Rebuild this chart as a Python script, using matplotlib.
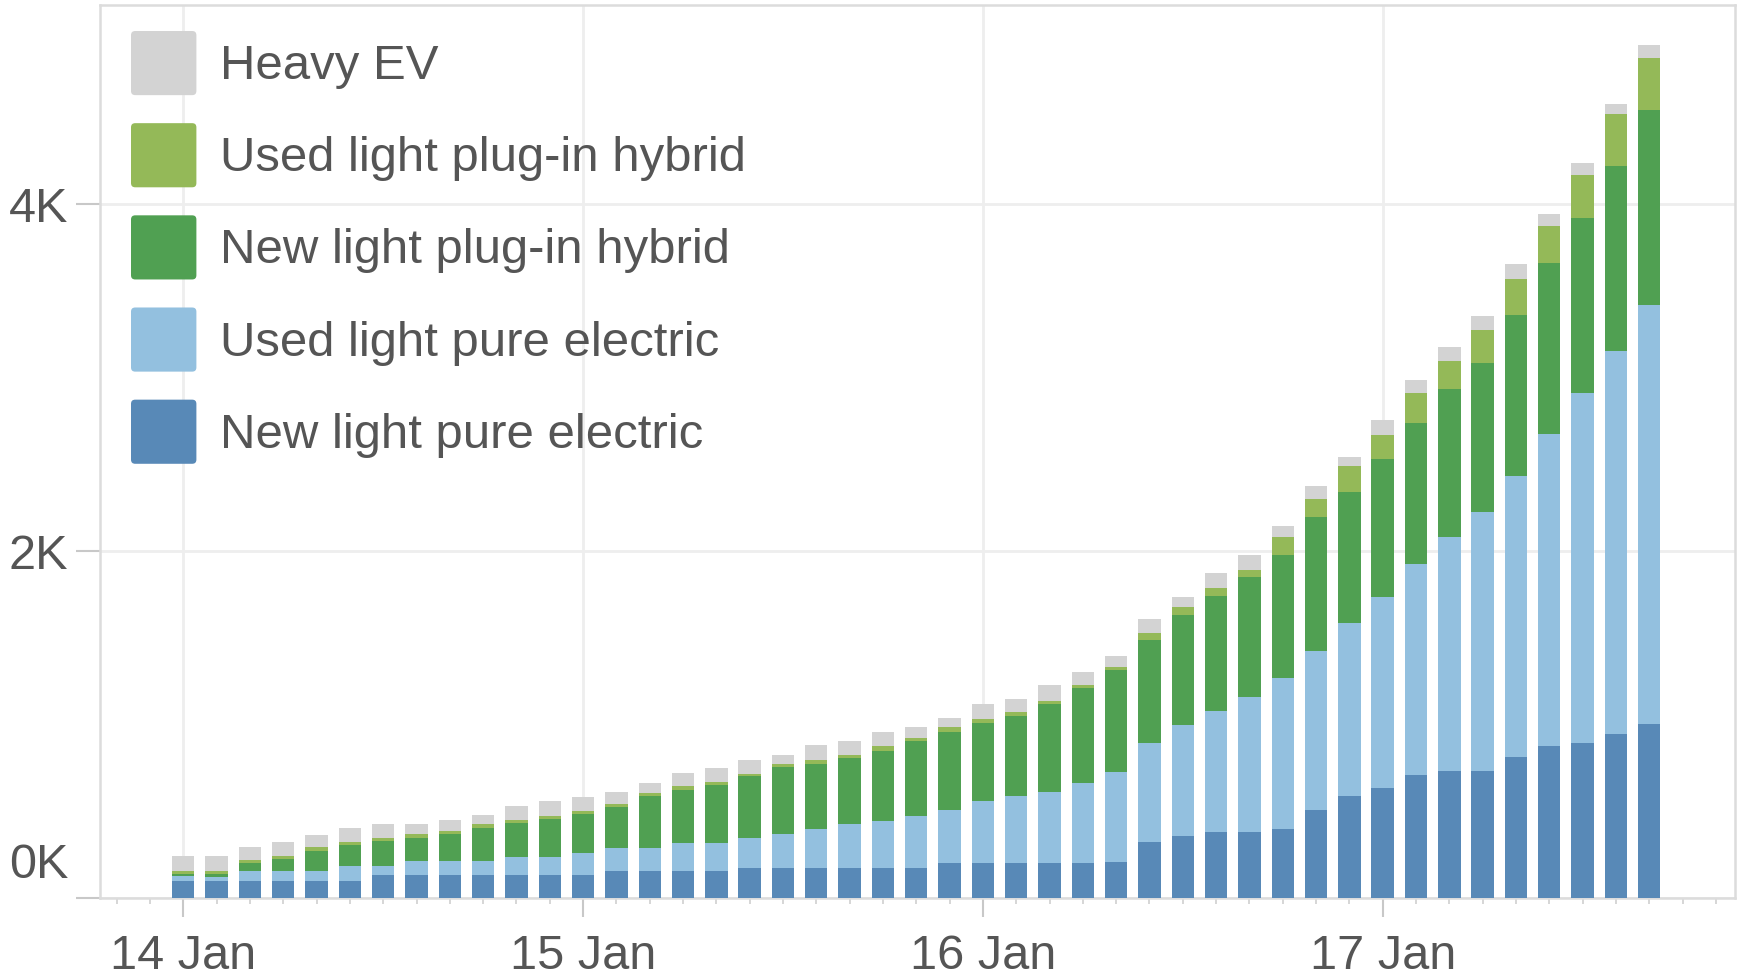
import matplotlib
matplotlib.use('Agg')
import matplotlib.pyplot as plt
import matplotlib.dates as mdates
import matplotlib.transforms as mtransforms
from matplotlib.patches import FancyBboxPatch
from matplotlib.legend_handler import HandlerPatch
import numpy as np
import pandas as pd

plt.rcParams['font.family'] = ['Liberation Sans', 'DejaVu Sans']

# two-hourly counts from 14 Jan 00:00
times = pd.date_range('2024-01-14 00:00', periods=45, freq='2h')

new_bev = [96, 96, 96, 96, 96, 96, 131, 131, 131, 131,
           131, 131, 131, 154, 154, 154, 154, 173, 173, 173,
           173, 173, 173, 202, 202, 202, 202, 202, 206, 321,
           355, 378, 378, 398, 509, 590, 634, 712, 735, 735,
           812, 879, 896, 946, 1003]
used_bev = [29, 26, 58, 58, 58, 87, 52, 80, 80, 80,
            107, 107, 130, 134, 134, 165, 165, 173, 196, 227,
            255, 273, 298, 303, 355, 384, 409, 461, 519, 572,
            644, 698, 784, 870, 913, 995, 1101, 1214, 1348, 1492,
            1623, 1796, 2017, 2208, 2418]
new_phev = [15, 15, 48, 71, 119, 120, 144, 137, 159, 194,
            196, 219, 221, 236, 298, 305, 330, 355, 386, 374,
            379, 402, 432, 450, 455, 461, 505, 547, 588, 596,
            634, 666, 688, 711, 774, 759, 797, 816, 853, 860,
            926, 987, 1010, 1070, 1125]
used_phev = [14, 17, 15, 15, 19, 20, 17, 19, 18, 20,
             17, 15, 19, 18, 21, 20, 19, 16, 19, 19,
             19, 28, 19, 30, 20, 23, 19, 19, 21, 38,
             48, 45, 42, 105, 103, 148, 138, 171, 161, 190,
             211, 211, 244, 295, 297]
heavy_ev = [86, 86, 75, 81, 73, 80, 84, 61, 63, 53,
            82, 85, 81, 70, 59, 76, 81, 80, 52, 87,
            77, 84, 63, 52, 86, 79, 91, 77, 59, 81,
            57, 86, 87, 62, 77, 49, 84, 74, 80, 77,
            83, 73, 74, 60, 78]

series = ['New light pure electric', 'Used light pure electric',
          'New light plug-in hybrid', 'Used light plug-in hybrid', 'Heavy EV']
colors = ['#5889b7', '#93c0df', '#50a052', '#94b958', '#d3d3d3']

day_ticks = pd.date_range('2024-01-14', periods=4, freq='D')
day_labels = ['14 Jan', '15 Jan', '16 Jan', '17 Jan']
y_ticks = [0, 2000, 4000]
y_labels = ['0K', '2K', '4K']

fig = plt.figure(figsize=(17.42, 9.8), dpi=100)
ax = fig.add_axes([100 / 1742, 1 - 898 / 980, 1635 / 1742, 893 / 980])

x = mdates.date2num(times)
bottom = np.zeros(len(x))
handles = []
for name, vals, c in zip(series, [new_bev, used_bev, new_phev, used_phev, heavy_ev], colors):
    bars = ax.bar(x, vals, width=0.056, bottom=bottom, color=c, label=name,
                  zorder=3, linewidth=0)
    bottom += np.array(vals)
    handles.append(bars.patches[0])

ax.set_xlim(x[0] - 5 / 24, x[0] + 93.15 / 24)
ax.set_ylim(0, 5150)

ax.set_xticks(mdates.date2num(day_ticks))
ax.set_xticklabels(day_labels)
ax.xaxis.set_minor_locator(mdates.HourLocator(byhour=range(0, 24, 2)))
ax.set_yticks(y_ticks)
ax.set_yticklabels(y_labels)

ax.tick_params(axis='x', which='major', length=14, width=1.5, color='#c8c8c8',
               pad=12, labelsize=35, labelcolor='#555555')
ax.tick_params(axis='x', which='minor', length=4, width=1.2, color='#d0d0d0')
ax.tick_params(axis='y', length=17, width=1.5, color='#c8c8c8', pad=6,
               labelsize=35, labelcolor='#555555')
zero_lab = ax.yaxis.get_major_ticks()[0].label1
zero_lab.set_verticalalignment('bottom')
zero_lab.set_transform(zero_lab.get_transform() +
                       mtransforms.ScaledTranslation(0, 7 / 72, fig.dpi_scale_trans))

ax.grid(True, which='major', color='#eeeeee', linewidth=2)
ax.set_axisbelow(True)
for s in ax.spines.values():
    s.set_color('#dcdcdc')
    s.set_linewidth(1.8)


class RoundHandler(HandlerPatch):
    def create_artists(self, legend, orig_handle, xdescent, ydescent,
                       width, height, fontsize, trans):
        p = FancyBboxPatch((-xdescent, -ydescent), width, height,
                           boxstyle='round,pad=0,rounding_size=3',
                           facecolor=orig_handle.get_facecolor(),
                           edgecolor='none', transform=trans)
        return [p]


leg = ax.legend(handles[::-1], series[::-1], loc='upper left',
                bbox_to_anchor=(131 / 1742, 1 - 31 / 980),
                bbox_transform=fig.transFigure, frameon=False,
                fontsize=35.4, handlelength=1.33, handleheight=1.63,
                handletextpad=0.47, labelspacing=0.57,
                borderpad=0, borderaxespad=0,
                handler_map={matplotlib.patches.Rectangle: RoundHandler()})
for t in leg.get_texts():
    t.set_color('#555555')

fig.savefig('out.png', dpi=100)
